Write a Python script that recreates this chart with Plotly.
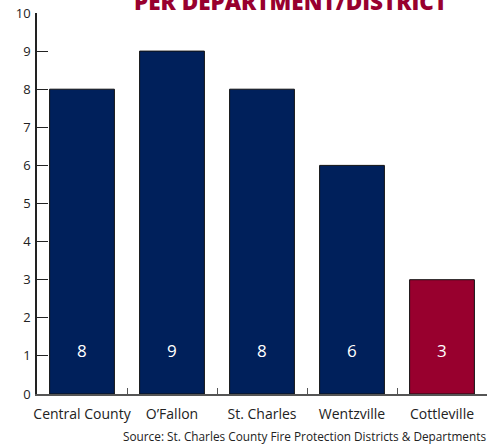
import plotly.graph_objects as go

categories = ["Central County", "O’Fallon", "St. Charles", "Wentzville", "Cottleville"]
values = [8, 9, 8, 6, 3]
bar_colors = ["#00205B", "#00205B", "#00205B", "#00205B", "#98002E"]
y_ticks = list(range(0, 11))
title_text = "PER DEPARTMENT/DISTRICT"
source_text = "Source: St. Charles County Fire Protection Districts & Departments"

FONT = "Open Sans"

fig = go.Figure()
fig.add_trace(go.Bar(
    x=categories, y=values,
    marker=dict(color=bar_colors, line=dict(color="#111111", width=1)),
    width=0.72,
    hoverinfo="skip",
))

for c, v in zip(categories, values):
    fig.add_annotation(x=c, y=1.15, text=str(v), showarrow=False,
                       font=dict(family=FONT, size=17, color="white"),
                       xref="x", yref="y")

fig.add_annotation(text=title_text, xref="paper", yref="paper", x=0.563, y=1,
                   yanchor="bottom", yshift=-6, showarrow=False,
                   font=dict(family=FONT, size=22.5, color="#98002E", weight=800))
fig.add_annotation(text=source_text, xref="paper", yref="paper", x=1.0, y=0,
                   xanchor="right", yanchor="top", yshift=-32, xshift=1,
                   showarrow=False,
                   font=dict(family=FONT, size=11.8, color="#222222"))

fig.update_layout(
    width=489, height=445,
    margin=dict(l=37, r=2, t=13, b=51, autoexpand=False),
    plot_bgcolor="white", paper_bgcolor="white",
    showlegend=False,
    bargap=0.28,
)
fig.update_xaxes(
    showline=True, linecolor="#555555", linewidth=1.5,
    ticks="inside", tickson="boundaries", ticklen=6, tickcolor="#555555",
    tickfont=dict(family=FONT, size=14, color="#222222"),
    tickangle=0, automargin=False, ticklabelstandoff=6,
    showgrid=False, fixedrange=True,
)
fig.update_yaxes(
    range=[0, 10], tickvals=y_ticks,
    showline=True, linecolor="#222222", linewidth=1.5,
    ticks="inside", ticklen=11, tickcolor="#222222",
    tickfont=dict(family=FONT, size=13, color="#222222"),
    automargin=False, ticklabelstandoff=2,
    showgrid=False, zeroline=False, fixedrange=True,
)

fig.write_html("out.html", config={"displayModeBar": False},
               post_script="document.body.style.margin='0';")
